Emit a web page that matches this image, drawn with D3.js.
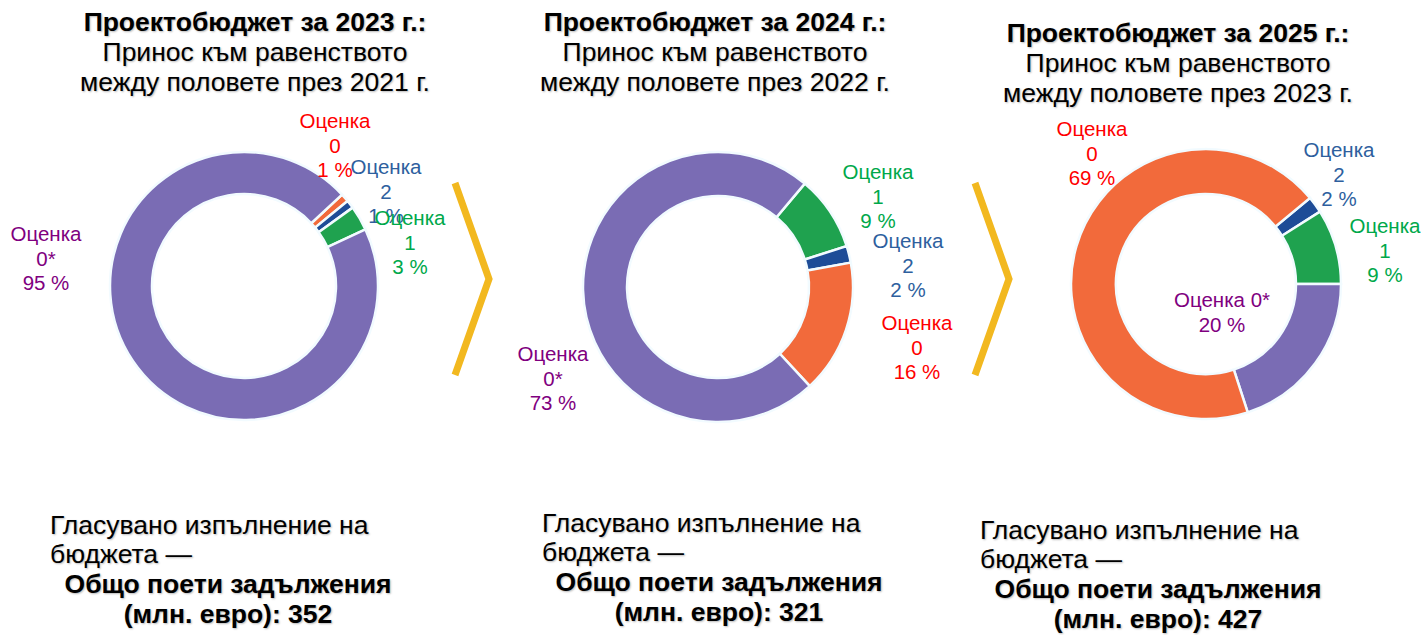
<!DOCTYPE html>
<html>
<head>
<meta charset="utf-8">
<script src="https://cdn.jsdelivr.net/npm/d3@7"></script>
<style>
  html, body { margin: 0; padding: 0; background: #fff; }
  svg text { font-family: "Liberation Sans", Arial, sans-serif; }
  .shadow { text-shadow: 1px 1px 2px rgba(0,0,0,0.28); }
</style>
</head>
<body>
<div id="vis"></div>
<script>
// data
const budgetYears = ["2023", "2024", "2025"];
const refYears = ["2021", "2022", "2023"];
const commitments = [352, 321, 427];

// scores and shares per chart, in clockwise drawing order
const scores2023 = ["0", "2", "1", "0*"];
const shares2023 = [1, 1, 3, 95];
const scores2024 = ["1", "2", "0", "0*"];
const shares2024 = [9, 2, 16, 73];
const scores2025 = ["2", "1", "0*", "0"];
const shares2025 = [2, 9, 20, 69];

const scoreColors = { "0": "#f26a3b", "2": "#1d4c97", "1": "#1fa24f", "0*": "#7a6cb4" };
const labelColors = { "0": "#ff0000", "2": "#2e5f9e", "1": "#00a84a", "0*": "#7f007f" };

// layout
const panels = [
  { cx: 244, cy: 286, rO: 134, rI: 92, start: 47, titleX: 255, titleY: 31, textX: 50, textY: 534, boldX: 228,
    scores: scores2023, shares: shares2023,
    labels: [[335, 128], [386, 174], [410, 225], [46, 241]] },
  { cx: 718, cy: 287, rO: 135, rI: 91, start: 40, titleX: 715, titleY: 31, textX: 542, textY: 532, boldX: 719,
    scores: scores2024, shares: shares2024,
    labels: [[878, 179], [908, 248], [917, 330], [553, 361]] },
  { cx: 1206, cy: 284, rO: 135, rI: 90, start: 50.4, titleX: 1178, titleY: 42, textX: 980, textY: 539, boldX: 1158,
    scores: scores2025, shares: shares2025,
    labels: [[1339, 157], [1385, 233], [1222, 307, true], [1092, 136]] }
];
const arrows = [[455, 489], [975, 1009]];

const W = 1424, H = 635;
const svg = d3.select("#vis").append("svg").attr("width", W).attr("height", H);

const pie = d3.pie().sort(null);

panels.forEach((p, i) => {
  const g = svg.append("g");

  // title
  const title = g.append("text").attr("class", "shadow")
    .attr("x", p.titleX).attr("text-anchor", "middle")
    .style("font-size", "26.5px").attr("fill", "#000");
  title.append("tspan").attr("x", p.titleX).attr("y", p.titleY)
    .style("font-weight", "bold").style("font-size", "26.5px").text(`Проектобюджет за ${budgetYears[i]} г.:`);
  title.append("tspan").attr("x", p.titleX).attr("dy", 30).text("Принос към равенството");
  title.append("tspan").attr("x", p.titleX).attr("dy", 30).text(`между половете през ${refYears[i]} г.`);

  // donut
  const a0 = p.start * Math.PI / 180;
  const arcs = pie.startAngle(a0).endAngle(a0 + 2 * Math.PI)(p.shares);
  const arc = d3.arc().innerRadius(p.rI).outerRadius(p.rO);
  g.append("g").attr("transform", `translate(${p.cx},${p.cy})`)
    .selectAll("path")
    .data(arcs)
    .enter()
    .append("path")
    .attr("d", arc)
    .attr("fill", (d, k) => scoreColors[p.scores[k]])
    .attr("stroke", "#f2fbff")
    .attr("stroke-width", 2.5);

  // slice labels
  p.scores.forEach((s, k) => {
    const [lx, ly, inline] = p.labels[k];
    const t = g.append("text").attr("text-anchor", "middle")
      .attr("fill", labelColors[s]).style("font-size", "20.5px");
    const lines = inline ? [`Оценка ${s}`, `${p.shares[k]} %`] : ["Оценка", s, `${p.shares[k]} %`];
    lines.forEach((line, j) => {
      t.append("tspan").attr("x", lx).attr("y", ly + j * 24.5).text(line);
    });
  });

  // bottom text
  const bt = g.append("text").attr("class", "shadow").style("font-size", "26.5px").attr("fill", "#000");
  bt.append("tspan").attr("x", p.textX).attr("y", p.textY).text("Гласувано изпълнение на");
  bt.append("tspan").attr("x", p.textX).attr("dy", 29).text("бюджета —");
  const bb = g.append("text").attr("class", "shadow").attr("text-anchor", "middle")
    .style("font-size", "26.5px").style("font-weight", "bold").attr("fill", "#000");
  bb.append("tspan").attr("x", p.boldX).attr("y", p.textY + 59).text("Общо поети задължения");
  bb.append("tspan").attr("x", p.boldX).attr("dy", 30).text(`(млн. евро): ${commitments[i]}`);
});

// chevrons between charts
arrows.forEach(([x0, x1]) => {
  svg.append("path")
    .attr("d", d3.line()([[x0, 183], [x1, 279], [x0, 375]]))
    .attr("fill", "none")
    .attr("stroke", "#f2b81f")
    .attr("stroke-width", 7)
    .attr("stroke-linejoin", "miter");
});
</script>
</body>
</html>
